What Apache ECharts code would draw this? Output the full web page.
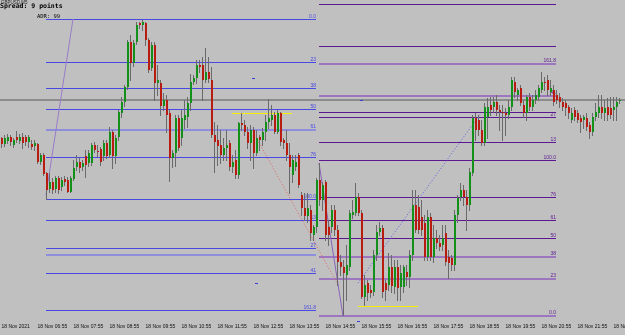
<!DOCTYPE html>
<html><head><meta charset="utf-8">
<script src="https://cdn.jsdelivr.net/npm/echarts/dist/echarts.min.js"></script>
<style>html,body{margin:0;padding:0;background:#c0c0c0}#c{width:625px;height:335px}</style>
</head><body><div id="c"></div><script>
// ---- data (GBPUSD, M5, 18 Nov 2021) ----
const dateLabel = '18 Nov 2021';
const dayPrefix = '18 Nov ';
const firstBarMinutes = 5 * 60 + 55; // 05:55
const barMinutes = 5;
const barCount = 207;

const open = [
1.35062,1.35056,1.35059,1.35063,1.35055,1.35063,1.35059,1.35063,1.35063,1.35058,
1.35056,1.35054,1.35056,1.35038,1.35045,1.35027,1.35011,1.35018,1.35011,1.35022,
1.35013,1.35021,1.35020,1.35008,1.35021,1.35033,1.35038,1.35033,1.35044,1.35037,
1.35037,1.35055,1.35049,1.35051,1.35044,1.35057,1.35045,1.35068,1.35044,1.35063,
1.35087,1.35098,1.35113,1.35158,1.35137,1.35158,1.35177,1.35175,1.35177,1.35160,
1.35132,1.35155,1.35117,1.35117,1.35094,1.35100,1.35087,1.35042,1.35047,1.35082,
1.35062,1.35080,1.35083,1.35097,1.35118,1.35122,1.35135,1.35135,1.35120,1.35128,
1.35120,1.35065,1.35060,1.35055,1.35045,1.35052,1.35057,1.35033,1.35040,1.35025,
1.35077,1.35075,1.35068,1.35057,1.35070,1.35047,1.35063,1.35060,1.35068,1.35078,
1.35080,1.35085,1.35068,1.35087,1.35060,1.35057,1.35045,1.35025,1.35033,1.35045,
1.35005,1.34992,1.34984,1.34990,1.34965,1.34973,1.35020,1.35000,1.35018,1.34973,
1.34973,1.34990,1.34970,1.34938,1.34933,1.34925,1.34933,1.34985,1.34987,1.35003,
1.34987,1.34903,1.34917,1.34910,1.34908,1.34945,1.34968,1.34972,1.34917,1.34915,
1.34933,1.34913,1.34933,1.34913,1.34913,1.34928,1.34923,1.34945,1.34995,1.34993,
1.34983,1.34977,1.34943,1.34983,1.34943,1.34962,1.34957,1.34955,1.34967,1.34943,
1.34942,1.34935,1.34985,1.35003,1.35010,1.35003,1.34995,1.35027,1.35082,1.35080,
1.35070,1.35057,1.35083,1.35095,1.35093,1.35098,1.35090,1.35088,1.35087,1.35085,
1.35093,1.35118,1.35105,1.35112,1.35095,1.35087,1.35103,1.35093,1.35100,1.35103,
1.35110,1.35118,1.35120,1.35108,1.35110,1.35105,1.35103,1.35098,1.35097,1.35093,
1.35080,1.35090,1.35087,1.35082,1.35080,1.35082,1.35075,1.35068,1.35083,1.35087,
1.35093,1.35087,1.35093,1.35092,1.35090,1.35093,1.35099];

const close = [
1.35056,1.35062,1.35063,1.35058,1.35060,1.35060,1.35063,1.35057,1.35058,1.35063,
1.35053,1.35057,1.35038,1.35045,1.35026,1.35010,1.35018,1.35010,1.35022,1.35010,
1.35020,1.35018,1.35008,1.35022,1.35032,1.35038,1.35032,1.35037,1.35035,1.35047,
1.35055,1.35050,1.35048,1.35038,1.35057,1.35044,1.35068,1.35044,1.35062,1.35088,
1.35098,1.35113,1.35158,1.35137,1.35157,1.35175,1.35175,1.35178,1.35160,1.35130,
1.35155,1.35117,1.35120,1.35094,1.35100,1.35085,1.35042,1.35047,1.35082,1.35052,
1.35082,1.35085,1.35097,1.35118,1.35122,1.35135,1.35133,1.35120,1.35128,1.35121,
1.35065,1.35058,1.35054,1.35045,1.35052,1.35055,1.35033,1.35038,1.35025,1.35077,
1.35075,1.35068,1.35057,1.35070,1.35047,1.35062,1.35060,1.35068,1.35078,1.35082,
1.35085,1.35068,1.35087,1.35058,1.35057,1.35045,1.35033,1.35040,1.35038,1.35015,
1.34992,1.34984,1.34992,1.34967,1.34973,1.35020,1.35000,1.35015,1.34965,1.34965,
1.34990,1.34970,1.34938,1.34933,1.34927,1.34935,1.34987,1.34988,1.35003,1.34987,
1.34903,1.34915,1.34907,1.34907,1.34945,1.34968,1.34972,1.34908,1.34910,1.34933,
1.34914,1.34933,1.34912,1.34927,1.34933,1.34923,1.34945,1.34995,1.34970,1.34970,
1.34970,1.34943,1.34983,1.34943,1.34962,1.34957,1.34953,1.34962,1.34938,1.34937,
1.34935,1.34985,1.35002,1.35010,1.35003,1.34995,1.35028,1.35082,1.35070,1.35070,
1.35057,1.35093,1.35093,1.35090,1.35098,1.35090,1.35088,1.35087,1.35085,1.35093,
1.35120,1.35108,1.35110,1.35097,1.35087,1.35103,1.35093,1.35100,1.35105,1.35112,
1.35118,1.35117,1.35110,1.35112,1.35098,1.35100,1.35098,1.35093,1.35092,1.35087,
1.35087,1.35083,1.35080,1.35078,1.35083,1.35073,1.35068,1.35083,1.35088,1.35093,
1.35087,1.35092,1.35085,1.35085,1.35093,1.35098,1.35100];

const high = [
1.35063,1.35065,1.35066,1.35065,1.35062,1.35069,1.35066,1.35067,1.35065,1.35065,
1.35060,1.35060,1.35057,1.35047,1.35047,1.35028,1.35027,1.35022,1.35024,1.35024,
1.35023,1.35024,1.35023,1.35024,1.35040,1.35045,1.35042,1.35040,1.35050,1.35050,
1.35057,1.35058,1.35055,1.35053,1.35060,1.35060,1.35073,1.35070,1.35065,1.35090,
1.35103,1.35115,1.35160,1.35165,1.35160,1.35178,1.35178,1.35180,1.35178,1.35162,
1.35158,1.35158,1.35135,1.35120,1.35107,1.35105,1.35090,1.35050,1.35085,1.35085,
1.35090,1.35100,1.35103,1.35126,1.35125,1.35140,1.35140,1.35143,1.35152,1.35143,
1.35133,1.35078,1.35075,1.35070,1.35062,1.35070,1.35060,1.35045,1.35050,1.35078,
1.35087,1.35080,1.35073,1.35075,1.35073,1.35070,1.35065,1.35072,1.35085,1.35101,
1.35095,1.35088,1.35090,1.35088,1.35062,1.35070,1.35057,1.35045,1.35045,1.35047,
1.35008,1.35007,1.35007,1.34995,1.34975,1.35022,1.35037,1.35018,1.35020,1.34980,
1.34995,1.34995,1.34975,1.34945,1.34940,1.34955,1.34990,1.35000,1.35017,1.35007,
1.34990,1.34925,1.34920,1.34915,1.34950,1.34975,1.34978,1.34975,1.34920,1.34947,
1.34945,1.34940,1.34940,1.34935,1.34935,1.34935,1.34950,1.35010,1.35010,1.35005,
1.35000,1.34985,1.34990,1.34987,1.34975,1.34970,1.34965,1.34975,1.34975,1.34950,
1.34945,1.34990,1.35005,1.35017,1.35015,1.35010,1.35032,1.35085,1.35087,1.35085,
1.35080,1.35097,1.35102,1.35103,1.35103,1.35105,1.35095,1.35095,1.35092,1.35100,
1.35123,1.35123,1.35112,1.35115,1.35100,1.35105,1.35107,1.35105,1.35110,1.35115,
1.35128,1.35123,1.35125,1.35120,1.35115,1.35110,1.35107,1.35102,1.35100,1.35095,
1.35092,1.35093,1.35090,1.35085,1.35085,1.35087,1.35078,1.35087,1.35097,1.35105,
1.35105,1.35100,1.35102,1.35103,1.35103,1.35103,1.35102];

const low = [
1.35053,1.35054,1.35057,1.35055,1.35053,1.35058,1.35057,1.35052,1.35055,1.35053,
1.35051,1.35050,1.35037,1.35036,1.35025,1.35001,1.35008,1.35007,1.35008,1.35007,
1.35010,1.35015,1.35008,1.35008,1.35020,1.35030,1.35028,1.35030,1.35023,1.35034,
1.35035,1.35048,1.35044,1.35035,1.35040,1.35042,1.35043,1.35032,1.35037,1.35060,
1.35083,1.35094,1.35111,1.35120,1.35134,1.35156,1.35172,1.35170,1.35155,1.35128,
1.35130,1.35100,1.35105,1.35085,1.35090,1.35068,1.35019,1.35033,1.35034,1.35050,
1.35055,1.35072,1.35073,1.35090,1.35116,1.35117,1.35128,1.35100,1.35118,1.35118,
1.35063,1.35028,1.35035,1.35037,1.35040,1.35040,1.35030,1.35028,1.35022,1.35022,
1.35070,1.35065,1.35052,1.35040,1.35032,1.35045,1.35050,1.35055,1.35060,1.35072,
1.35075,1.35067,1.35067,1.35055,1.35052,1.35040,1.35007,1.35018,1.35030,1.35013,
1.34985,1.34980,1.34978,1.34960,1.34960,1.34968,1.34995,1.34990,1.34960,1.34955,
1.34968,1.34965,1.34915,1.34925,1.34885,1.34900,1.34930,1.34982,1.34985,1.34985,
1.34902,1.34895,1.34900,1.34903,1.34905,1.34940,1.34965,1.34903,1.34900,1.34910,
1.34908,1.34907,1.34900,1.34900,1.34908,1.34915,1.34913,1.34940,1.34968,1.34967,
1.34965,1.34940,1.34940,1.34940,1.34938,1.34952,1.34950,1.34950,1.34935,1.34922,
1.34930,1.34930,1.34978,1.35000,1.34995,1.34970,1.34990,1.35025,1.35060,1.35065,
1.35055,1.35055,1.35062,1.35085,1.35088,1.35085,1.35070,1.35060,1.35065,1.35082,
1.35090,1.35103,1.35100,1.35095,1.35083,1.35080,1.35090,1.35090,1.35097,1.35100,
1.35108,1.35110,1.35105,1.35105,1.35095,1.35097,1.35093,1.35090,1.35085,1.35082,
1.35078,1.35080,1.35078,1.35068,1.35072,1.35070,1.35062,1.35065,1.35080,1.35083,
1.35082,1.35080,1.35080,1.35082,1.35080,1.35080,1.35097];

// Fibonacci set 1 (blue), drawn over bars 15..105
const fibLeftBars = [15, 105];
const fibLeftPrices = [1.35181,1.35138,1.35112,1.35091,1.35070,1.35043,1.35001,1.34980,1.34952,1.34945,1.34927,1.34890];
const fibLeftLabels = ['0.0','23','38','50','61','76','100.0','13','27','','41','161.8'];
// Fibonacci set 2 (purple), drawn over bars 106..185
const fibRightBars = [106, 185];
const fibRightPrices = [1.35196,1.35154,1.35136,1.35104,1.35088,1.35083,1.35058,1.35040,1.35003,1.34980,1.34962,1.34943,1.34921,1.34884];
const fibRightLabels = ['','','161.8','41','','27','13','100.0','76','61','50','38','23','0.0'];
// current bid line
const bidPrice = 1.35100;
// drawn objects: [barFrom, priceFrom, barTo, priceTo]
const trendLeft   = [15, 1.35005, 24, 1.35181];
const trendRight  = [106, 1.35037, 114, 1.34884];
const dottedRed   = [85, 1.35063, 112, 1.34917];
const dottedBlue  = [119, 1.34917, 160, 1.35087];
const yellowTop   = [77, 1.35087, 97, 1.35087];
const yellowBot   = [119, 1.34894, 139, 1.34894];
// small chart markers: [bar, price]
const markerBars   = [84, 120, 85, 119];
const markerPrices = [1.35122, 1.35100, 1.34917, 1.34879];
const priceMin = 1.34882, priceMax = 1.35200;

// ---- styles ----
const BLUE = '#4848e2', BLUE_T = '#8e8edc';
const PURP = '#5c1890', PURP_T = '#9c76be';
const thickLeft = [4, 9];            // level indexes drawn as wide pale lines
const thickRight = [2, 3, 11, 12, 13];

// ---- build ----
function pad(n){return (n<10?'0':'')+n;}
const categories = [];
for (let i = 0; i < barCount; i++) {
  const m = firstBarMinutes + i * barMinutes;
  categories.push(i === 0 ? dateLabel : dayPrefix + pad(Math.floor(m/60)%24) + ':' + pad(m%60));
}
const candles = open.map((o, i) => [i, o, close[i], low[i], high[i]]);

// segments: [bar0, price0, bar1, price1, color, width, dash, labelText, labelColor]
const segs = [];
fibLeftPrices.forEach((p, k) => {
  const t = thickLeft.indexOf(k) >= 0;
  segs.push([fibLeftBars[0], p, fibLeftBars[1], p, t ? BLUE_T : BLUE, t ? 2 : 1, 0, fibLeftLabels[k], BLUE]);
});
fibRightPrices.forEach((p, k) => {
  const t = thickRight.indexOf(k) >= 0;
  segs.push([fibRightBars[0], p, fibRightBars[1], p, t ? PURP_T : PURP, t ? 2 : 1, 0, fibRightLabels[k], PURP]);
});
segs.push([trendLeft[0], trendLeft[1], trendLeft[2], trendLeft[3], '#9a7cc8', 1, 0, '', '']);
segs.push([trendRight[0], trendRight[1], trendRight[2], trendRight[3], '#8a64b8', 1, 0, '', '']);
segs.push([dottedRed[0], dottedRed[1], dottedRed[2], dottedRed[3], '#e46464', 1, 1, '', '']);
segs.push([dottedBlue[0], dottedBlue[1], dottedBlue[2], dottedBlue[3], '#5c5ce8', 1, 1, '', '']);
segs.push([yellowTop[0], yellowTop[1], yellowTop[2], yellowTop[3], '#f4f000', 1, 0, '', '']);
segs.push([yellowBot[0], yellowBot[1], yellowBot[2], yellowBot[3], '#f4f000', 1, 0, '', '']);

const chart = echarts.init(document.getElementById('c'), null, {renderer: 'canvas'});
chart.setOption({
  animation: false,
  backgroundColor: '#c0c0c0',
  grid: {left: 0, right: 4, top: 0, bottom: 17, containLabel: false, outerBoundsMode: 'none'},
  xAxis: {
    type: 'category', data: categories, boundaryGap: true,
    axisLine: {show: false}, axisTick: {show: false}, splitLine: {show: false},
    axisLabel: {interval: 11, align: 'left', margin: 6, fontSize: 5, color: '#111',
                fontFamily: 'Liberation Sans', hideOverlap: false}
  },
  yAxis: {type: 'value', min: priceMin, max: priceMax, show: false, splitLine: {show: false}},
  graphic: [
    {type: 'text', left: 1, top: 0, style: {text: 'GBPUSD,M5', font: '4.5px "Liberation Sans"', fill: '#222'}},
    {type: 'text', left: 0, top: 3, style: {text: 'Spread: 9 points', font: 'bold 6.5px "DejaVu Sans Mono"', fill: '#000'}},
    {type: 'text', left: 37, top: 14, style: {text: 'ADR: 99', font: '5.5px "DejaVu Sans Mono"', fill: '#000'}}
  ],
  series: [
    { // bid line across the whole chart
      type: 'custom', z: 1, silent: true, data: [[0, bidPrice]],
      renderItem: function (params, api) {
        const y = Math.round(api.coord([0, api.value(1)])[1]);
        return {type: 'line', shape: {x1: 0, y1: y, x2: 625, y2: y}, style: {stroke: '#8c8c8c', lineWidth: 2}};
      }
    },
    { // drawn objects
      type: 'custom', z: 2, silent: true, data: segs.map(s => [s[0], s[1], s[2], s[3]]),
      renderItem: function (params, api) {
        const s = segs[params.dataIndex];
        const a = api.coord([api.value(0), api.value(1)]);
        const b = api.coord([api.value(2), api.value(3)]);
        let y1 = a[1], y2 = b[1];
        if (s[1] === s[3]) {
          y1 = y2 = Math.round(y1) + (s[5] % 2 ? 0.5 : 0);
        }
        const children = [{type: 'line', shape: {x1: Math.floor(a[0]), y1: y1, x2: Math.floor(b[0]), y2: y2},
          style: {stroke: s[4], lineWidth: s[5], lineDash: s[6] ? [1, 2] : null}}];
        if (s[7]) {
          children.push({type: 'text', x: Math.floor(b[0]), y: Math.round(y1) - 1,
            style: {text: s[7], fill: s[8], font: '5px "Liberation Sans"', align: 'right', verticalAlign: 'bottom'}});
        }
        return {type: 'group', children: children};
      }
    },
    { // small object markers
      type: 'custom', z: 3, silent: true, clip: false,
      data: markerBars.map((b, k) => [b, markerPrices[k]]),
      renderItem: function (params, api) {
        const p = api.coord([api.value(0), api.value(1)]);
        return {type: 'rect', shape: {x: Math.floor(p[0]) - 1, y: Math.round(p[1]), width: 3, height: 1},
                style: {fill: '#3c3cd8'}};
      }
    },
    { // candles
      type: 'custom', z: 5, silent: true, data: candles,
      renderItem: function (params, api) {
        const i = api.value(0);
        const o = api.coord([i, api.value(1)]);
        const c = api.coord([i, api.value(2)]);
        const l = api.coord([i, api.value(3)]);
        const h = api.coord([i, api.value(4)]);
        const cx = Math.floor(o[0]);
        const up = api.value(2) > api.value(1);
        const doji = api.value(2) === api.value(1);
        const top = Math.round(Math.min(o[1], c[1]));
        const bot = Math.round(Math.max(o[1], c[1]));
        return {
          type: 'group', children: [
            {type: 'line', shape: {x1: cx + 0.5, y1: Math.round(h[1]), x2: cx + 0.5, y2: Math.round(l[1]) + 1},
             style: {stroke: '#6a6a6a', lineWidth: 1}},
            {type: 'rect', shape: {x: cx, y: top, width: 2, height: Math.max(1, bot - top)},
             style: {fill: doji ? '#303030' : (up ? '#12901a' : '#b81c10')}}
          ]
        };
      }
    }
  ]
});
</script></body></html>
